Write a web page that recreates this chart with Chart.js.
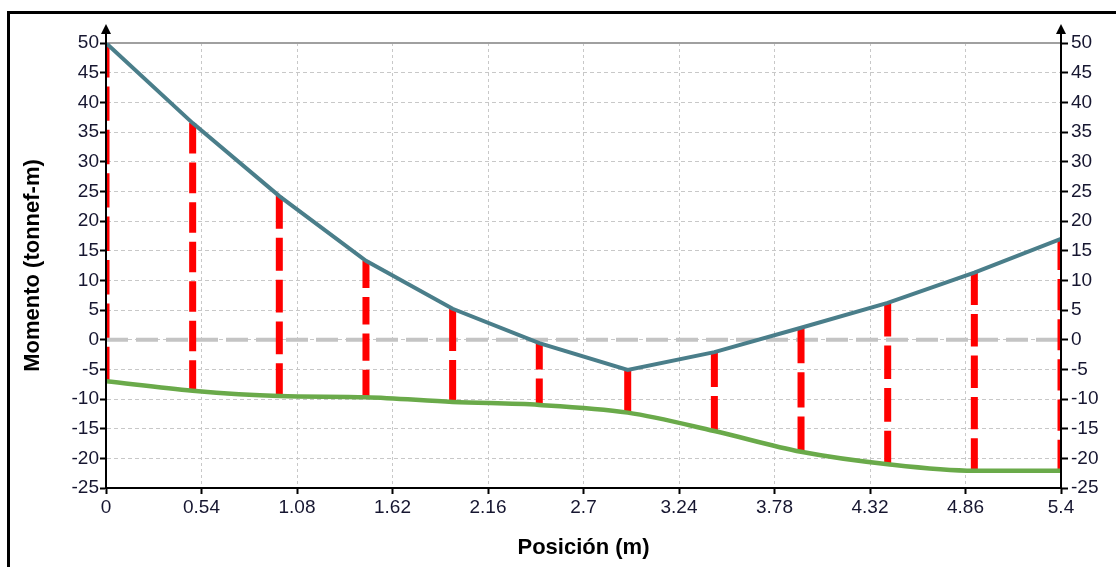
<!DOCTYPE html>
<html>
<head>
<meta charset="utf-8">
<script src="https://cdn.jsdelivr.net/npm/chart.js@4.4.1/dist/chart.umd.min.js"></script>
<style>
  html, body { margin: 0; padding: 0; background: #fff; }
  #wrap { position: relative; width: 1116px; height: 567px; overflow: hidden; }
  #frame { position: absolute; left: 7px; top: 11px; width: 1200px; height: 700px; border: 3px solid #000; box-sizing: border-box; }
  canvas { position: absolute; left: 0; top: 0; }
</style>
</head>
<body>
<div id="wrap">
  <div id="frame"></div>
  <canvas id="c" width="1116" height="567"></canvas>
</div>
<script>
// ---- data ----
const positions = [0, 0.49, 0.98, 1.47, 1.96, 2.45, 2.95, 3.44, 3.93, 4.42, 4.91, 5.4];
const momentMax = [50, 36.5, 24.2, 13.3, 5.2, -0.6, -5.1, -2.1, 2.0, 6.2, 11.3, 17.0];
const momentMin = [-7.0, -8.6, -9.5, -9.7, -10.5, -11.0, -12.3, -15.4, -18.9, -21.0, -22.1, -22.1];
const xTickLabels = [0, 0.54, 1.08, 1.62, 2.16, 2.7, 3.24, 3.78, 4.32, 4.86, 5.4];
const yTickLabels = [-25, -20, -15, -10, -5, 0, 5, 10, 15, 20, 25, 30, 35, 40, 45, 50];
const zeroLineX = [0, 5.4];
const zeroLineY = [0, 0];
const xTitle = 'Posición (m)';
const yTitle = 'Momento (tonnef-m)';

const tickFont = { family: 'Liberation Sans, Arial, sans-serif', size: 19 };
const titleFont = { family: 'Liberation Sans, Arial, sans-serif', size: 22, weight: 'bold' };
const tickColor = '#161630';

// dash pattern fitted so each red segment starts and ends with a dash
function fittedDash(ctx) {
  const ys = ctx.chart.scales.y;
  const d = ctx.dataset.data;
  if (!ys || !d || d.length < 2) return [32, 9];
  const L = Math.abs(ys.getPixelForValue(d[0].y) - ys.getPixelForValue(d[1].y));
  const gap = 9;
  const n = Math.max(1, Math.round((L + gap) / (32 + gap)));
  if (n === 1) return [];
  const dash = (L - (n - 1) * gap) / n;
  return [dash, gap];
}

const datasets = [];
datasets.push({
  label: 'max', data: positions.map((x, i) => ({ x, y: momentMax[i] })),
  borderColor: '#4a7e8a', borderWidth: 4, pointRadius: 0, tension: 0, order: 0
});
datasets.push({
  label: 'min', data: positions.map((x, i) => ({ x, y: momentMin[i] })),
  borderColor: '#6aaa4a', borderWidth: 4.5, pointRadius: 0, cubicInterpolationMode: 'monotone', order: 0
});
positions.forEach((x, i) => {
  datasets.push({
    label: 'r' + i, data: [{ x, y: momentMax[i] }, { x, y: momentMin[i] }],
    borderColor: '#ff0000', borderWidth: 7, borderDash: fittedDash, borderCapStyle: 'butt',
    pointRadius: 0, clip: 0, order: 1
  });
});
datasets.push({
  label: 'zero', data: zeroLineX.map((x, i) => ({ x, y: zeroLineY[i] })),
  borderColor: '#c4c4c4', borderWidth: 4, borderDash: [22, 8], pointRadius: 0, order: 2
});

const decor = {
  id: 'decor',
  beforeDatasetsDraw(chart) {
    const { ctx, chartArea: a } = chart;
    ctx.save();
    ctx.strokeStyle = '#a0a0a0'; ctx.lineWidth = 2;
    ctx.beginPath(); ctx.moveTo(a.left, a.top); ctx.lineTo(a.right, a.top); ctx.stroke();
    ctx.restore();
  },
  afterDatasetsDraw(chart) {
    const { ctx, chartArea: a } = chart;
    ctx.save();
    [a.left, a.right].forEach(x => {
      ctx.strokeStyle = '#000'; ctx.lineWidth = 2;
      ctx.beginPath(); ctx.moveTo(x, a.bottom); ctx.lineTo(x, a.top - 10); ctx.stroke();
      ctx.fillStyle = '#000';
      ctx.beginPath(); ctx.moveTo(x, a.top - 19); ctx.lineTo(x - 5, a.top - 9); ctx.lineTo(x + 5, a.top - 9); ctx.closePath(); ctx.fill();
    });
    ctx.restore();
  }
};

new Chart(document.getElementById('c'), {
  type: 'line',
  data: { datasets },
  plugins: [decor],
  options: {
    responsive: false, animation: false, devicePixelRatio: 1,
    layout: { padding: { top: 43, left: 0, right: 0, bottom: 0 } },
    plugins: { legend: { display: false }, tooltip: { enabled: false } },
    scales: {
      x: {
        type: 'linear', min: xTickLabels[0], max: xTickLabels[xTickLabels.length - 1],
        afterBuildTicks: s => { s.ticks = xTickLabels.map(v => ({ value: v })); },
        afterFit: s => { s.height = 79; },
        ticks: { callback: v => String(v), font: tickFont, color: tickColor, padding: 2, maxRotation: 0, autoSkip: false },
        grid: { color: '#c8c8c8', lineWidth: 1, tickLength: 6, tickColor: '#000', tickWidth: 2 },
        border: { display: true, color: '#000', width: 2, dash: [3, 3] },
        title: { display: true, text: xTitle, font: titleFont, color: '#000', padding: { top: 0, bottom: 5.8 } }
      },
      y: {
        type: 'linear', position: 'left', min: yTickLabels[0], max: yTickLabels[yTickLabels.length - 1],
        afterBuildTicks: s => { s.ticks = yTickLabels.map(v => ({ value: v })); },
        afterFit: s => { s.width = 106; },
        ticks: { callback: v => String(v), font: tickFont, color: tickColor, padding: 1 },
        grid: { color: '#c8c8c8', lineWidth: 1, tickLength: 6, tickColor: '#000', tickWidth: 2 },
        border: { display: true, color: '#000', width: 2, dash: [4, 3] },
        title: { display: true, text: yTitle, font: titleFont, color: '#000', padding: { top: 19.8, bottom: 0 } }
      },
      y2: {
        type: 'linear', position: 'right', min: yTickLabels[0], max: yTickLabels[yTickLabels.length - 1],
        afterBuildTicks: s => { s.ticks = yTickLabels.map(v => ({ value: v })); },
        afterFit: s => { s.width = 55; },
        ticks: { callback: v => String(v), font: tickFont, color: tickColor, padding: 3 },
        grid: { drawOnChartArea: false, tickLength: 7, tickColor: '#000', tickWidth: 2 },
        border: { display: true, color: '#000', width: 2 }
      }
    }
  }
});
</script>
</body>
</html>
